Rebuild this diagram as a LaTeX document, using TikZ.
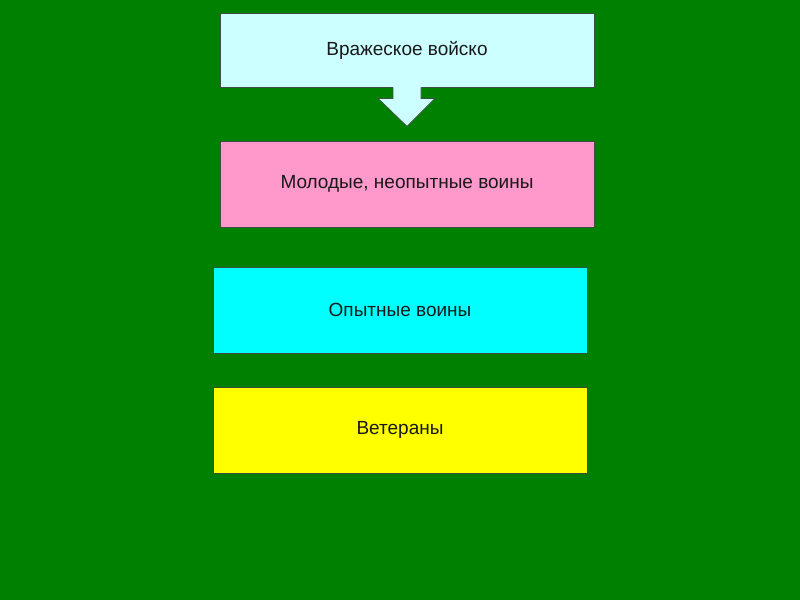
\documentclass[tikz,border=0pt]{standalone}
\usepackage{fontspec}
\setmainfont{Liberation Sans}
\usetikzlibrary{calc}
\definecolor{bg}{HTML}{008000}
\definecolor{c1}{HTML}{CCFFFF}
\definecolor{c2}{HTML}{FF99CC}
\definecolor{c3}{HTML}{00FFFF}
\definecolor{c4}{HTML}{FFFF00}
\definecolor{edge}{HTML}{3F4F3F}
\begin{document}
\begin{tikzpicture}[x=1pt,y=-1pt,
  box/.style={draw=edge,line width=0.8pt,minimum width=374pt,minimum height=74pt,inner sep=0pt,font=\fontsize{19}{22}\selectfont,text=black!90}]
\fill[bg] (0,0) rectangle (800,600);
\useasboundingbox (0,0) rectangle (800,600);
\node[box,fill=c1,minimum height=74pt] (b1) at (407,50) {Вражеское войско};
\node[box,fill=c2,minimum height=86pt] (b2) at (407,184) {Молодые, неопытные воины};
\node[box,fill=c3,minimum height=86pt] (b3) at (400,310) {Опытные воины};
\node[box,fill=c4,minimum height=86pt] (b4) at (400,430) {Ветераны};
\fill[c1] ($(b1.south)+(-14,-1)$) -- ($(b1.south)+(-14,11)$) -- ($(b1.south)+(-29,11)$) -- ($(b1.south)+(0,39)$) -- ($(b1.south)+(28,11)$) -- ($(b1.south)+(14,11)$) -- ($(b1.south)+(14,-1)$) -- cycle;
\draw[edge,line width=0.8pt,line join=miter] ($(b1.south)+(-14,0)$) -- ($(b1.south)+(-14,11)$) -- ($(b1.south)+(-29,11)$) -- ($(b1.south)+(0,39)$) -- ($(b1.south)+(28,11)$) -- ($(b1.south)+(14,11)$) -- ($(b1.south)+(14,0)$);
\end{tikzpicture}
\end{document}
